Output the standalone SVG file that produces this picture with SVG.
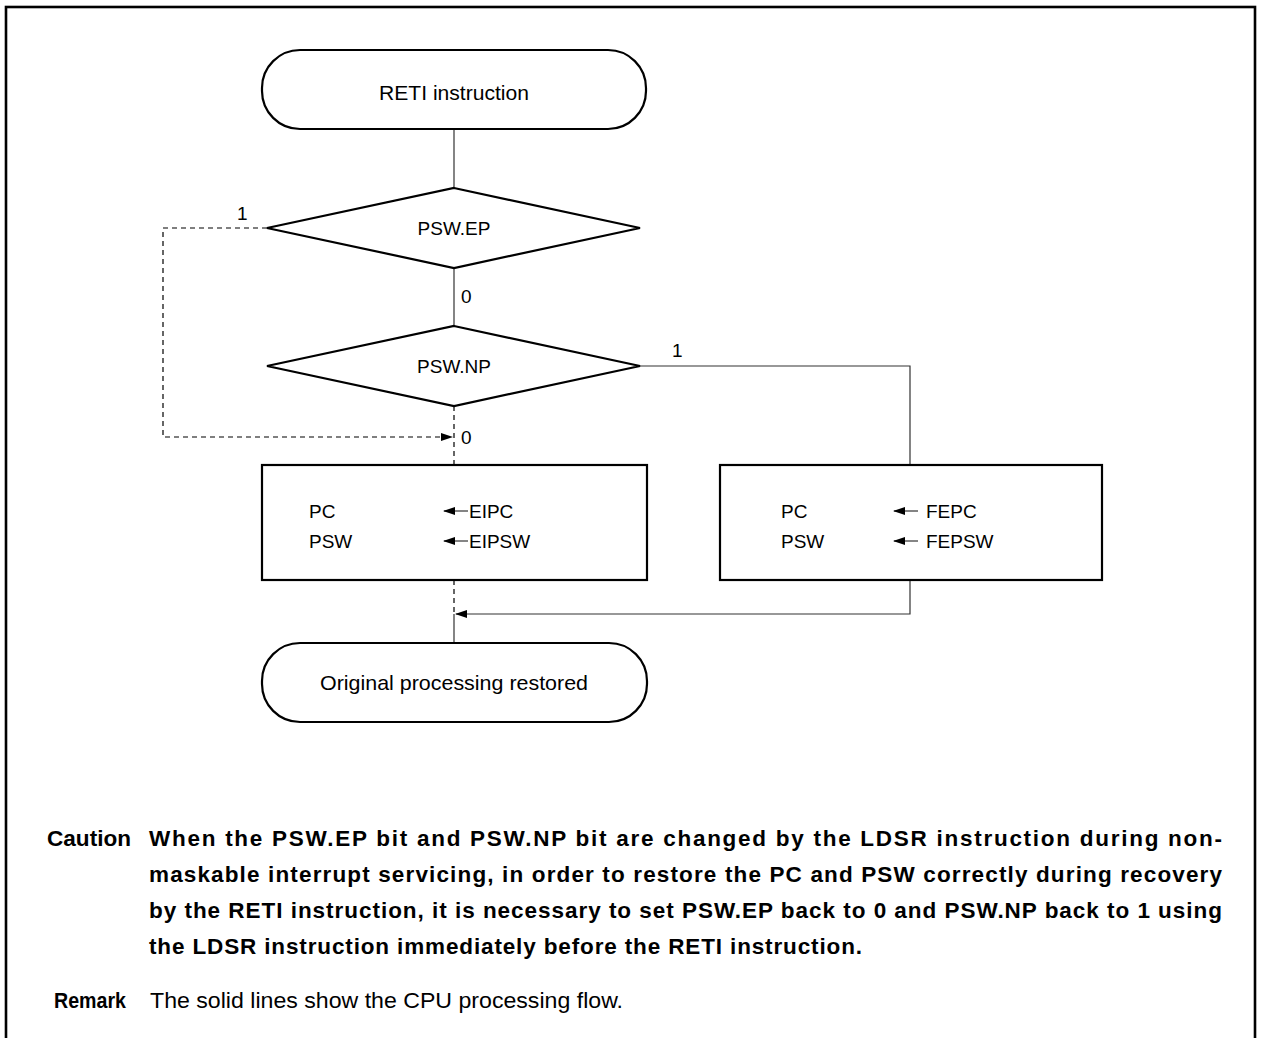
<svg xmlns="http://www.w3.org/2000/svg" width="1261" height="1038" viewBox="0 0 1261 1038">
<style>
.shape{fill:#fff;stroke:#000;stroke-width:2.2}
.t{font-family:"Liberation Sans",Arial,sans-serif;font-size:19px;fill:#000}
.tt{font-family:"Liberation Sans",Arial,sans-serif;font-size:21px;fill:#000}
.c{text-anchor:middle}
.b{font-family:"Liberation Sans",Arial,sans-serif;font-size:22.5px;font-weight:bold;fill:#000}
.r{font-family:"Liberation Sans",Arial,sans-serif;font-size:22px;fill:#000}
.ln{fill:none;stroke:#333;stroke-width:1.2}
.dash{fill:none;stroke:#000;stroke-width:1.2;stroke-dasharray:5,4}
</style>
<defs>
<marker id="ah" markerWidth="12" markerHeight="8" refX="11" refY="4" orient="auto" markerUnits="userSpaceOnUse">
<path d="M0,0 L12,4 L0,8 Z" fill="#000"/>
</marker>
</defs>
<rect x="6" y="7" width="1249" height="1060" fill="none" stroke="#000" stroke-width="2.6"/>
<g id="connectors">
<line class="ln" x1="454" y1="129" x2="454" y2="188"/>
<line class="ln" x1="454" y1="268" x2="454" y2="326"/>
<polyline class="dash" points="267,228 163,228 163,437 452,437" marker-end="url(#ah)"/>
<line class="dash" x1="454" y1="406" x2="454" y2="465"/>
<polyline class="ln" points="640,366 910,366 910,465"/>
<line class="dash" x1="454" y1="580" x2="454" y2="614"/>
<polyline class="ln" points="910,580 910,614 456,614" marker-end="url(#ah)"/>
<line class="ln" x1="454" y1="614" x2="454" y2="643"/>
<text class="t" x="237" y="220">1</text>
<text class="t" x="461" y="303">0</text>
<text class="t" x="672" y="357">1</text>
<text class="t" x="461" y="444">0</text>
</g>
<g id="start">
<rect class="shape" x="262" y="50" width="384" height="79" rx="38" ry="38"/>
<text class="tt c" x="454" y="100" textLength="150" lengthAdjust="spacingAndGlyphs">RETI instruction</text>
</g>
<g id="psw-ep">
<polygon class="shape" points="454,188 640,228 454,268 267,228"/>
<text class="t c" x="454" y="235">PSW.EP</text>
</g>
<g id="psw-np">
<polygon class="shape" points="454,326 640,366 454,406 267,366"/>
<text class="t c" x="454" y="373">PSW.NP</text>
</g>
<g id="restore-ei">
<rect class="shape" x="262" y="465" width="385" height="115"/>
<text class="t" x="309" y="518">PC</text>
<text class="t" x="309" y="548">PSW</text>
<line class="ln" x1="468" y1="511" x2="444" y2="511" marker-end="url(#ah)"/>
<line class="ln" x1="468" y1="541" x2="444" y2="541" marker-end="url(#ah)"/>
<text class="t" x="469" y="518">EIPC</text>
<text class="t" x="469" y="548">EIPSW</text>
</g>
<g id="restore-fe">
<rect class="shape" x="720" y="465" width="382" height="115"/>
<text class="t" x="781" y="518">PC</text>
<text class="t" x="781" y="548">PSW</text>
<line class="ln" x1="918" y1="511" x2="894" y2="511" marker-end="url(#ah)"/>
<line class="ln" x1="918" y1="541" x2="894" y2="541" marker-end="url(#ah)"/>
<text class="t" x="926" y="518">FEPC</text>
<text class="t" x="926" y="548">FEPSW</text>
</g>
<g id="end">
<rect class="shape" x="262" y="643" width="385" height="79" rx="38" ry="38"/>
<text class="tt c" x="454" y="690" textLength="268" lengthAdjust="spacingAndGlyphs">Original processing restored</text>
</g>
<g id="notes">
<text class="b" x="47" y="846" textLength="84" lengthAdjust="spacingAndGlyphs">Caution</text>
<text class="b" x="149" y="846" textLength="1073" lengthAdjust="spacing">When the PSW.EP bit and PSW.NP bit are changed by the LDSR instruction during non-</text>
<text class="b" x="149" y="882" textLength="1073" lengthAdjust="spacing">maskable interrupt servicing, in order to restore the PC and PSW correctly during recovery</text>
<text class="b" x="149" y="918" textLength="1073" lengthAdjust="spacing">by the RETI instruction, it is necessary to set PSW.EP back to 0 and PSW.NP back to 1 using</text>
<text class="b" x="149" y="954" textLength="713" lengthAdjust="spacing">the LDSR instruction immediately before the RETI instruction.</text>
<text class="b" x="54" y="1008" textLength="72" lengthAdjust="spacingAndGlyphs">Remark</text>
<text class="r" x="150" y="1008" textLength="473" lengthAdjust="spacingAndGlyphs">The solid lines show the CPU processing flow.</text>
</g>
</svg>
